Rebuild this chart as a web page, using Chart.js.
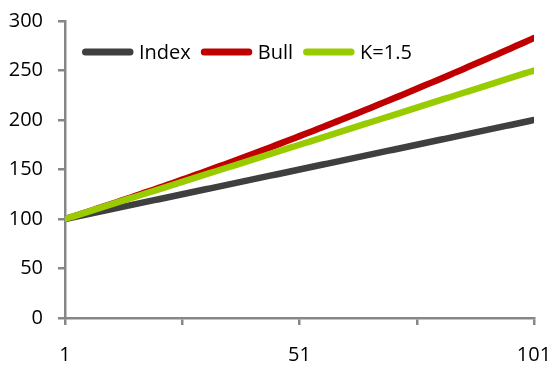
<!DOCTYPE html>
<html>
<head>
<meta charset="utf-8">
<script src="https://cdn.jsdelivr.net/npm/chart.js@4/dist/chart.umd.min.js"></script>
<style>
  html, body { margin: 0; padding: 0; background: #fff; }
  #wrap { width: 555px; height: 365px; }
</style>
</head>
<body>
<div id="wrap"><canvas id="c" width="555" height="365"></canvas></div>
<script>
// Trading days 1..101
const days = Array.from({ length: 101 }, (_, i) => i + 1);

// Underlying index level
const indexValues = [
  100,101,102,103,104,105,106,107,108,109,110,111,112,113,114,115,116,117,118,119,
  120,121,122,123,124,125,126,127,128,129,130,131,132,133,134,135,136,137,138,139,
  140,141,142,143,144,145,146,147,148,149,150,151,152,153,154,155,156,157,158,159,
  160,161,162,163,164,165,166,167,168,169,170,171,172,173,174,175,176,177,178,179,
  180,181,182,183,184,185,186,187,188,189,190,191,192,193,194,195,196,197,198,199,200
];

// Daily-rebalanced leveraged (bull) fund
const bullValues = [
  100,101.5,103.0,104.5,106.1,107.6,109.1,110.7,112.2,113.8,115.4,116.9,118.5,120.1,121.7,
  123.3,124.9,126.6,128.2,129.8,131.5,133.1,134.8,136.4,138.1,139.8,141.4,143.1,144.8,146.5,
  148.2,149.9,151.7,153.4,155.1,156.9,158.6,160.4,162.1,163.9,165.6,167.4,169.2,171.0,172.8,
  174.6,176.4,178.2,180.0,181.9,183.7,185.6,187.4,189.2,191.1,193.0,194.8,196.7,198.6,200.5,
  202.4,204.3,206.2,208.1,210.0,211.9,213.9,215.8,217.8,219.7,221.7,223.6,225.6,227.5,229.5,
  231.5,233.5,235.5,237.5,239.5,241.5,243.5,245.5,247.6,249.6,251.6,253.7,255.7,257.8,259.8,
  261.9,264.0,266.0,268.1,270.2,272.3,274.4,276.5,278.6,280.7,282.8
];

// Static 1.5x exposure
const kValues = [
  100,101.5,103,104.5,106,107.5,109,110.5,112,113.5,115,116.5,118,119.5,121,122.5,124,125.5,127,128.5,
  130,131.5,133,134.5,136,137.5,139,140.5,142,143.5,145,146.5,148,149.5,151,152.5,154,155.5,157,158.5,
  160,161.5,163,164.5,166,167.5,169,170.5,172,173.5,175,176.5,178,179.5,181,182.5,184,185.5,187,188.5,
  190,191.5,193,194.5,196,197.5,199,200.5,202,203.5,205,206.5,208,209.5,211,212.5,214,215.5,217,218.5,
  220,221.5,223,224.5,226,227.5,229,230.5,232,233.5,235,236.5,238,239.5,241,242.5,244,245.5,247,248.5,250
];

const seriesNames = ['Index', 'Bull', 'K=1.5'];
const xLabelDays = [1, 51, 101];

const AXIS = '#878787';
const FONT = "'Open Sans', 'DejaVu Sans', sans-serif";

const toPoints = vals => vals.map((v, i) => ({ x: days[i], y: v }));

function lineDataset(label, vals, color, order) {
  return {
    label,
    data: toPoints(vals),
    borderColor: color,
    backgroundColor: color,
    borderWidth: 6.5,
    borderCapStyle: 'round',
    borderJoinStyle: 'round',
    pointRadius: 0,
    pointHoverRadius: 0,
    tension: 0,
    fill: false,
    order
  };
}

// Inline legend drawn inside the plot area, top-left
const inlineLegend = {
  id: 'inlineLegend',
  afterDraw(chart) {
    const { ctx, chartArea } = chart;
    let x = chartArea.left + 17;
    const y = chartArea.top + 31;
    ctx.save();
    ctx.font = '20px ' + FONT;
    ctx.textBaseline = 'middle';
    ctx.textAlign = 'left';
    chart.data.datasets.forEach(ds => {
      ctx.strokeStyle = ds.borderColor;
      ctx.lineWidth = 7;
      ctx.lineCap = 'round';
      ctx.beginPath();
      ctx.moveTo(x + 3.5, y);
      ctx.lineTo(x + 48, y);
      ctx.stroke();
      ctx.fillStyle = '#000';
      ctx.fillText(ds.label, x + 57, y + 1);
      x += 57 + ctx.measureText(ds.label).width + 10;
    });
    ctx.restore();
  }
};

new Chart(document.getElementById('c'), {
  type: 'line',
  data: {
    datasets: [
      lineDataset(seriesNames[0], indexValues, '#3f3f3f', 3),
      lineDataset(seriesNames[1], bullValues, '#c00000', 2),
      lineDataset(seriesNames[2], kValues, '#99cc00', 1)
    ]
  },
  options: {
    responsive: false,
    animation: false,
    devicePixelRatio: 1,
    layout: { padding: { left: 0, right: 21, top: 21, bottom: 0 } },
    plugins: {
      legend: { display: false },
      tooltip: { enabled: false }
    },
    scales: {
      x: {
        type: 'linear',
        min: 1,
        max: 101,
        afterFit: s => { s.height = 47; s.paddingLeft = 0; s.paddingRight = 0; },
        afterBuildTicks: s => {
          s.ticks = [1, 26, 51, 76, 101].map(v => ({ value: v }));
        },
        border: { color: AXIS, width: 2.5 },
        grid: {
          drawOnChartArea: false,
          drawTicks: true,
          tickLength: 7,
          tickColor: AXIS,
          lineWidth: 2.5
        },
        ticks: {
          autoSkip: false,
          maxRotation: 0,
          padding: 18,
          color: '#000',
          font: { family: FONT, size: 20 },
          callback: v => (xLabelDays.includes(v) ? String(v) : '')
        }
      },
      y: {
        min: 0,
        max: 300,
        afterFit: s => { s.width = 65; s.paddingTop = 0; s.paddingBottom = 0; },
        border: { color: AXIS, width: 2.5 },
        grid: {
          drawOnChartArea: false,
          drawTicks: true,
          tickLength: 7,
          tickColor: AXIS,
          lineWidth: 2.5
        },
        ticks: {
          stepSize: 50,
          padding: 15,
          color: '#000',
          font: { family: FONT, size: 20 }
        }
      }
    }
  },
  plugins: [inlineLegend]
});
</script>
</body>
</html>
